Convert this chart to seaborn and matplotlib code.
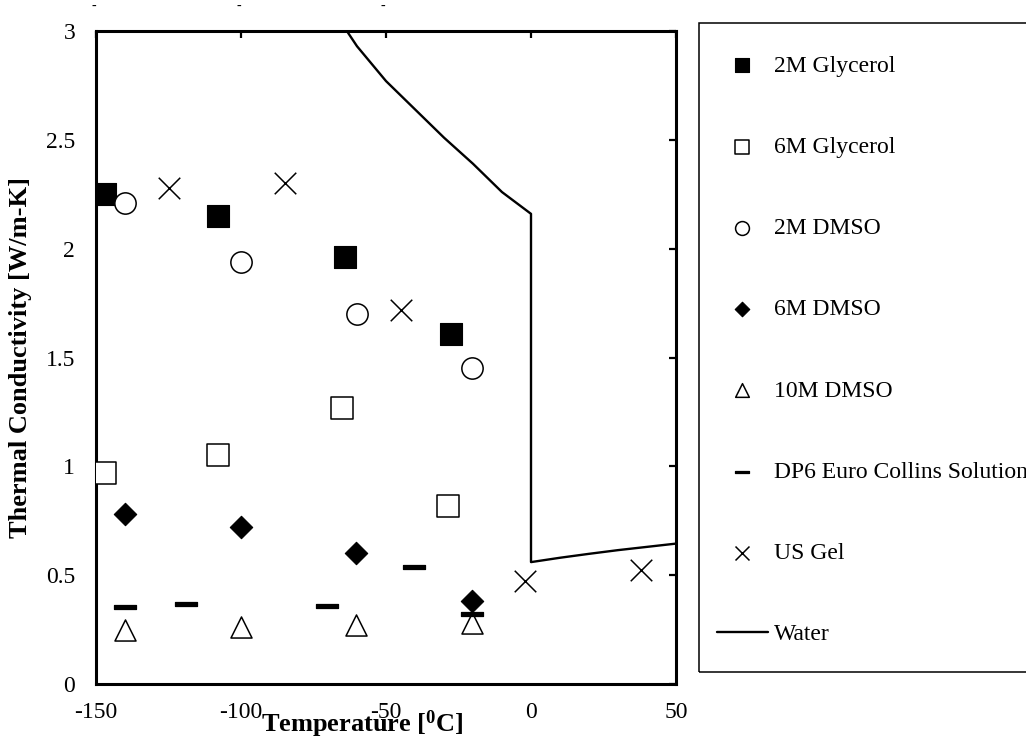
import matplotlib
matplotlib.use("Agg")
import matplotlib.pyplot as plt
from matplotlib.path import Path
from matplotlib.patches import Rectangle
from matplotlib.ticker import FuncFormatter
from matplotlib.transforms import blended_transform_factory
import seaborn as sns

# ---- data: temperature [C] and thermal conductivity [W/m-K] ----
glyc2_T = [-147.0, -108.0, -64.0, -27.6]
glyc2_K = [2.25, 2.15, 1.96, 1.61]

glyc6_T = [-147.0, -108.0, -65.2, -28.5]
glyc6_K = [0.97, 1.05, 1.27, 0.82]

dmso2_T = [-140.0, -100.0, -60.1, -20.5]
dmso2_K = [2.21, 1.94, 1.70, 1.45]

dmso6_T = [-140.0, -100.0, -60.4, -20.5]
dmso6_K = [0.78, 0.72, 0.60, 0.38]

dmso10_T = [-140.0, -100.0, -60.4, -20.5]
dmso10_K = [0.25, 0.26, 0.27, 0.28]

dp6_T = [-140.0, -119.0, -70.3, -40.4, -20.5]
dp6_K = [0.355, 0.366, 0.36, 0.536, 0.32]

usgel_T = [-124.8, -84.8, -44.9, -2.1, 38.0]
usgel_K = [2.28, 2.30, 1.72, 0.475, 0.524]

# water: ice branch, jump at 0 C, liquid branch
water_T = [-63.5, -60, -50, -40, -30, -20, -10, 0, 0, 10, 20, 30, 40, 50]
water_K = [3.00, 2.93, 2.77, 2.64, 2.51, 2.39, 2.26, 2.16, 0.56, 0.58, 0.598, 0.615, 0.63, 0.645]

x_ticks = [-150, -100, -50, 0, 50]
y_ticks = [0, 0.5, 1, 1.5, 2, 2.5, 3]

sns.set_theme(style="white")
plt.rcParams["font.family"] = ["Liberation Serif", "DejaVu Serif"]
plt.rcParams["mathtext.fontset"] = "custom"
plt.rcParams["mathtext.rm"] = "Liberation Serif"
plt.rcParams["mathtext.bf"] = "Liberation Serif:bold"
plt.rcParams["axes.unicode_minus"] = False
for key in ["text.color", "axes.labelcolor", "xtick.color", "ytick.color"]:
    plt.rcParams[key] = "black"

W, H = 1026, 742
fig = plt.figure(figsize=(W / 100, H / 100), dpi=100)
ax = fig.add_axes([96 / W, 1 - 684 / H, 580 / W, 653 / H])

bar_marker = Path([(-1, -0.16), (1, -0.16), (1, 0.16), (-1, 0.16), (-1, -0.16)],
                  [Path.MOVETO, Path.LINETO, Path.LINETO, Path.LINETO, Path.CLOSEPOLY])

sns.lineplot(x=water_T, y=water_K, sort=False, estimator=None, color="black",
             linewidth=1.7, label="Water", ax=ax, zorder=2)

common = dict(ax=ax, zorder=3)
sns.scatterplot(x=glyc2_T, y=glyc2_K, marker="s", s=245, color="black",
                edgecolor="black", linewidth=0.8, label="2M Glycerol", **common)
sns.scatterplot(x=glyc6_T, y=glyc6_K, marker="s", s=235, color="white",
                edgecolor="black", linewidth=1.1, label="6M Glycerol", **common)
sns.scatterplot(x=dmso2_T, y=dmso2_K, marker="o", s=235, color="white",
                edgecolor="black", linewidth=1.1, label="2M DMSO", **common)
sns.scatterplot(x=dmso6_T, y=dmso6_K, marker="D", s=130, color="black",
                edgecolor="black", linewidth=0.8, label="6M DMSO", **common)
sns.scatterplot(x=dmso10_T, y=dmso10_K, marker="^", s=230, color="white",
                edgecolor="black", linewidth=1.1, label="10M DMSO", **common)
sns.scatterplot(x=dp6_T, y=dp6_K, marker=bar_marker, s=260, color="black",
                edgecolor="black", linewidth=0.9, label="DP6 Euro Collins Solution", **common)
sns.scatterplot(x=usgel_T, y=usgel_K, marker="x", s=240, color="black",
                linewidth=1.1, label="US Gel", **common)

ax.set_xlim(-150, 50)
ax.set_ylim(0, 3)
ax.set_xticks(x_ticks)
ax.set_yticks(y_ticks)
ax.yaxis.set_major_formatter(FuncFormatter(lambda v, p: f"{v:g}"))
ax.xaxis.set_major_formatter(FuncFormatter(lambda v, p: f"{v:g}"))
ax.tick_params(axis="both", which="major", direction="in", length=5, width=1.6,
               top=True, right=True, labelsize=17, colors="black")
ax.tick_params(axis="x", pad=13)
ax.tick_params(axis="y", pad=15)
for sp in ax.spines.values():
    sp.set_visible(True)
    sp.set_color("black")
    sp.set_linewidth(2.2)

ax.set_xlabel(r"Temperature [$\mathbf{^{0}}$C]", fontsize=19, fontweight="bold")
ax.set_ylabel("Thermal Conductivity [W/m-K]", fontsize=19, fontweight="bold")
ax.xaxis.set_label_coords((362 - 96) / 580, (684 - 708) / 653)
ax.yaxis.set_label_coords((32 - 96) / 580, 0.5)

# small dashes above the frame
top_tr = blended_transform_factory(ax.transData, fig.transFigure)
for t in [-150.7, -100.7, -51.0]:
    fig.text(t, 1 - 6 / H, "-", transform=top_tr, fontsize=10,
             ha="center", va="center")

# legend frame and entries
handles, labels = ax.get_legend_handles_labels()
order = ["2M Glycerol", "6M Glycerol", "2M DMSO", "6M DMSO", "10M DMSO",
         "DP6 Euro Collins Solution", "US Gel", "Water"]
hmap = dict(zip(labels, handles))
fig.patches.append(Rectangle((699 / W, 1 - 672 / H), 400 / W, (672 - 23) / H,
                             transform=fig.transFigure, fill=False,
                             edgecolor="black", linewidth=1.1))
leg = ax.legend([hmap[k] for k in order], order, loc="upper left",
                bbox_to_anchor=(717 / W, 1 - 55 / H), bbox_transform=fig.transFigure,
                frameon=False, fontsize=17, markerscale=0.65, borderpad=0,
                labelspacing=2.53, handlelength=2.15, handletextpad=0.25,
                borderaxespad=0)

fig.savefig("out.png", dpi=100)
